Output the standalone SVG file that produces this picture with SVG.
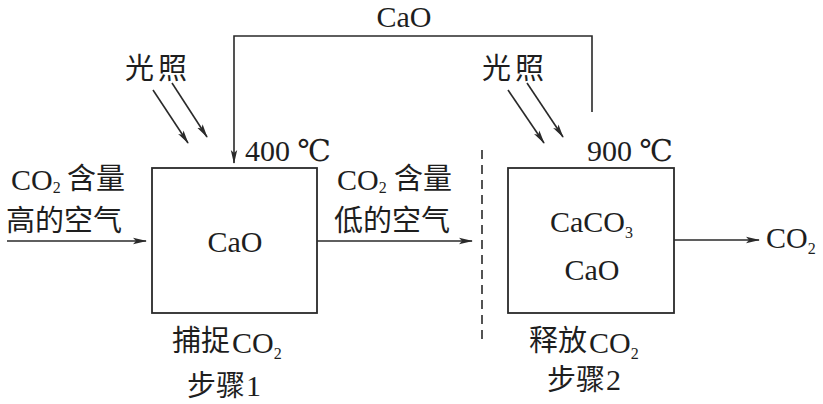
<svg xmlns="http://www.w3.org/2000/svg" width="823" height="404" viewBox="0 0 823 404">
<style>
.ln{stroke:#2a2a2a;stroke-width:1.6;fill:none}
.bx{stroke:#2a2a2a;stroke-width:1.8;fill:#fff}
.t{font-family:'Liberation Serif','DejaVu Serif',serif;font-size:30px;fill:#1e1e1e}
.c{font-family:'Noto Sans CJK SC','Noto Sans CJK JP',sans-serif;font-size:29px;fill:#1e1e1e}
.s{font-size:16px}
</style>
<defs>
<marker id="ah" markerWidth="14" markerHeight="8" refX="13" refY="4" orient="auto" markerUnits="userSpaceOnUse">
<path d="M0,0.8 L14,4 L0,7.2 L3,4 Z" fill="#2a2a2a"/>
</marker>
</defs>
<rect width="823" height="404" fill="#fff"/>
<g id="connectors">
<path class="ln" d="M592,112 V36 H234 V163" marker-end="url(#ah)"/>
<line class="ln" x1="153" y1="90" x2="188" y2="143" marker-end="url(#ah)"/>
<line class="ln" x1="172" y1="83" x2="207" y2="137" marker-end="url(#ah)"/>
<line class="ln" x1="508" y1="90" x2="544" y2="143" marker-end="url(#ah)"/>
<line class="ln" x1="527" y1="83" x2="563" y2="137" marker-end="url(#ah)"/>
<line class="ln" x1="7" y1="241" x2="146" y2="241" marker-end="url(#ah)"/>
<line class="ln" x1="317" y1="241" x2="472" y2="241" marker-end="url(#ah)"/>
<line class="ln" x1="674" y1="240" x2="759" y2="240" marker-end="url(#ah)"/>
<line class="ln" x1="482" y1="150" x2="482" y2="342" stroke-dasharray="9,6"/>
</g>
<g id="top-label"><text class="t" x="404" y="27" text-anchor="middle">CaO</text></g>
<g id="light1"><text class="c" x="125" y="79" letter-spacing="4">光照</text></g>
<g id="light2"><text class="c" x="482" y="79" letter-spacing="4">光照</text></g>
<g id="temp1"><text class="t" x="245" y="161">400 ℃</text></g>
<g id="temp2"><text class="t" x="587" y="161">900 ℃</text></g>
<g id="input"><text class="t" x="11" y="190">CO<tspan class="s" dy="3">2</tspan></text>
<text class="c" x="67" y="189">含量</text>
<text class="c" x="6" y="231">高的空气</text></g>
<g id="middle"><text class="t" x="337" y="190">CO<tspan class="s" dy="3">2</tspan></text>
<text class="c" x="394" y="189">含量</text>
<text class="c" x="334" y="231">低的空气</text></g>
<g id="box1"><rect class="bx" x="152" y="168" width="165" height="145"/>
<text class="t" x="235" y="252" text-anchor="middle">CaO</text></g>
<g id="box2"><rect class="bx" x="508" y="168" width="166" height="145"/>
<text class="t" x="550" y="232">CaCO<tspan class="s" dy="6">3</tspan></text>
<text class="t" x="592" y="280" text-anchor="middle">CaO</text></g>
<g id="output"><text class="t" x="766" y="248">CO<tspan class="s" dy="6">2</tspan></text></g>
<g id="step1"><text class="c" x="172" y="351">捕捉</text>
<text class="t" x="232" y="353">CO<tspan class="s" dy="6">2</tspan></text>
<text class="c" x="187" y="396">步骤</text>
<text class="t" x="246" y="396">1</text></g>
<g id="step2"><text class="c" x="529" y="351">释放</text>
<text class="t" x="589" y="353">CO<tspan class="s" dy="6">2</tspan></text>
<text class="c" x="547" y="390">步骤</text>
<text class="t" x="606" y="390">2</text></g>
</svg>
